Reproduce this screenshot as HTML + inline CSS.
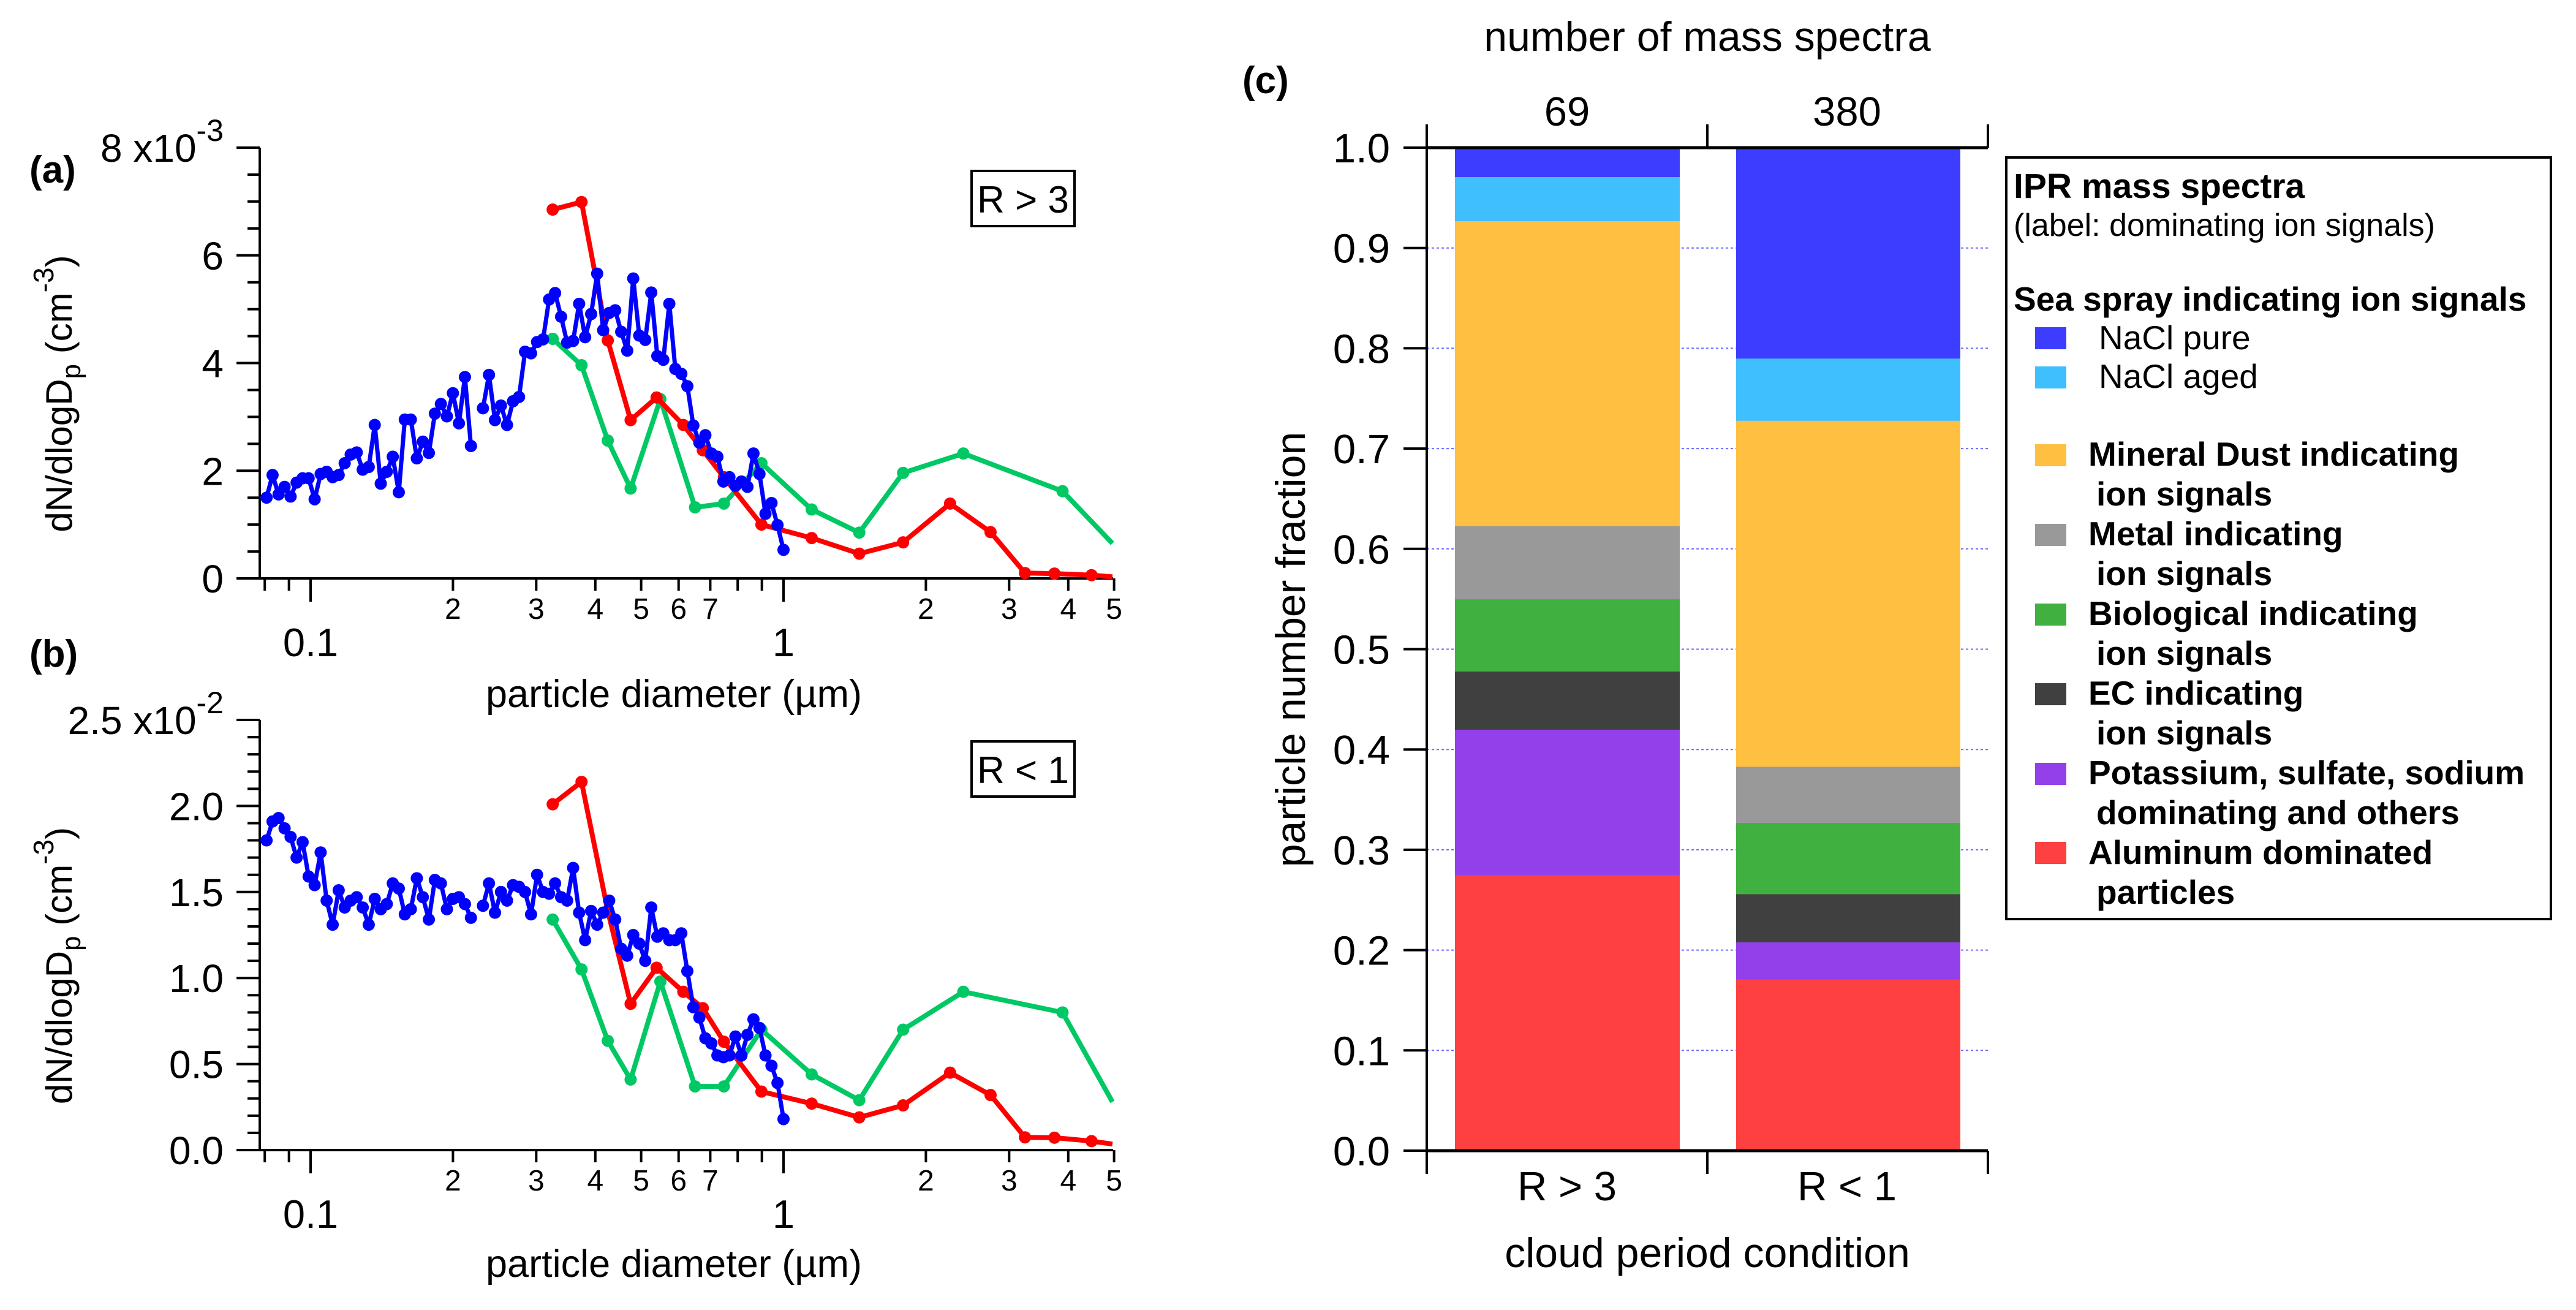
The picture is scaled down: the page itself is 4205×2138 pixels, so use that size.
<!DOCTYPE html>
<html><head><meta charset="utf-8"><style>
html,body{margin:0;padding:0;background:#fff;}
svg{display:block;font-family:"Liberation Sans",Arial,sans-serif;}
</style></head><body>
<svg id="fig" width="4205" height="2138" viewBox="0 0 4205 2138" xmlns="http://www.w3.org/2000/svg">
<rect width="4205" height="2138" fill="#fff"/>
<g id="pa"></g>
<g id="pb"></g>
<g id="pc"></g>
</svg>
<script>
// ---------- data: panels a & b ----------
const blueA = [1.50,1.92,1.56,1.70,1.52,1.78,1.86,1.86,1.47,1.94,1.98,1.88,1.92,2.14,2.30,2.34,2.02,2.07,2.85,1.76,1.98,2.26,1.60,2.95,2.95,2.23,2.54,2.33,3.06,3.24,3.01,3.44,2.88,3.74,2.46,null,3.16,3.78,2.94,3.21,2.85,3.29,3.37,4.21,4.18,4.39,4.44,5.18,5.30,4.86,4.38,4.41,5.10,4.48,4.91,5.66,4.61,4.93,4.98,4.58,4.23,5.57,4.51,4.43,5.31,4.13,4.06,5.10,3.89,3.80,3.57,2.84,2.52,2.66,2.32,2.26,1.80,1.88,1.72,1.80,1.70,2.32,1.94,1.20,1.40,0.99,0.53];
const blueB = [1.80,1.91,1.93,1.87,1.82,1.70,1.79,1.59,1.54,1.73,1.45,1.31,1.51,1.41,1.45,1.47,1.41,1.31,1.46,1.40,1.43,1.55,1.52,1.37,1.40,1.58,1.47,1.34,1.57,1.55,1.40,1.46,1.47,1.43,1.35,null,1.42,1.55,1.38,1.50,1.45,1.54,1.53,1.50,1.37,1.60,1.50,1.49,1.55,1.47,1.45,1.64,1.38,1.22,1.39,1.31,1.38,1.45,1.34,1.17,1.13,1.25,1.20,1.10,1.41,1.24,1.26,1.22,1.22,1.26,1.04,0.83,0.77,0.65,0.62,0.55,0.54,0.55,0.66,0.55,0.67,0.76,0.71,0.55,0.49,0.39,0.18];
const blueDmin = 0.0807, blueDmax = 1.0;
const redD = [0.325,0.374,0.425,0.475,0.539,0.614,0.675,0.748,0.898,1.147,1.446,1.79,2.25,2.74,3.24,3.74,4.48,4.96];
const redA = [6.85,6.99,4.42,2.94,3.36,2.85,2.38,1.88,1.00,0.75,0.46,0.67,1.39,0.86,0.10,0.09,0.06,0.03];
const redB = [2.01,2.14,1.39,0.85,1.06,0.92,0.825,0.63,0.34,0.27,0.19,0.26,0.45,0.32,0.074,0.072,0.052,0.035];
const greenD = [0.325,0.374,0.425,0.475,0.549,0.650,0.748,0.898,1.147,1.446,1.79,2.40,3.89,4.96];
const greenA = [4.45,3.96,2.56,1.67,3.33,1.32,1.39,2.14,1.28,0.85,1.96,2.32,1.62,0.65];
const greenB = [1.34,1.05,0.635,0.41,0.98,0.37,0.37,0.70,0.44,0.29,0.70,0.92,0.80,0.28];
// ---------- data: panel c ----------
const categories = ["R > 3","R < 1"];
const counts = ["69","380"];
const layerNames = ["Aluminum dominated","Potassium, sulfate, sodium","EC","Biological","Metal","Mineral Dust","NaCl aged","NaCl pure"];
const layerColors = ["#ff4040","#9440ea","#404040","#40b040","#999999","#ffbf40","#40bfff","#3d3dff"];
const fracR3 = [0.275,0.145,0.058,0.072,0.073,0.304,0.044,0.029];
const fracR1 = [0.171,0.037,0.048,0.071,0.056,0.345,0.062,0.210];
const yTicksC = [0,0.1,0.2,0.3,0.4,0.5,0.6,0.7,0.8,0.9,1.0];

const NS="http://www.w3.org/2000/svg";
function el(tag, attrs, parent){const e=document.createElementNS(NS,tag);for(const k in attrs)e.setAttribute(k,attrs[k]);parent.appendChild(e);return e;}
function txt(s, attrs, parent){const t=el('text',attrs,parent);t.textContent=s;return t;}

const X0=1279, DEC=772;
function xL(d){return X0+DEC*Math.log10(d);}
const AX_L=424, AX_R=1817;

function drawPanel(g, cfg){
  const yv=v=>cfg.y0-(v/cfg.max)*(cfg.y0-cfg.yTop);
  let a=el('line',{x1:AX_L,y1:cfg.yTop,x2:AX_L,y2:cfg.y0,stroke:'#000','stroke-width':4},g);
  
  for(let v=0; v<=cfg.max+1e-9; v+=cfg.minor){
    const isMaj=Math.abs(v/cfg.major-Math.round(v/cfg.major))<1e-6;
    el('line',{x1:AX_L-(isMaj?38:20),x2:AX_L,y1:yv(v),y2:yv(v),stroke:'#000','stroke-width':4},g);
    if(isMaj && v<cfg.max-1e-9){
      const t=txt(cfg.fmt(v),{x:365,y:yv(v)+23,'font-size':64,'text-anchor':'end'},g);
      
    }
  }
  const top=txt('',{x:365,y:cfg.yTop+23,'font-size':64,'text-anchor':'end'},g);
  
  top.innerHTML=cfg.topLabel+' x10<tspan dy="-34" font-size="50">'+cfg.exp+'</tspan>';
  a=el('line',{x1:AX_L,y1:cfg.y0,x2:AX_R,y2:cfg.y0,stroke:'#000','stroke-width':4},g);
  
  const minors=[0.08,0.09,0.2,0.3,0.4,0.5,0.6,0.7,0.8,0.9,2,3,4,5];
  const labeled={0.2:'2',0.3:'3',0.4:'4',0.5:'5',0.6:'6',0.7:'7',2:'2',3:'3',4:'4',5:'5'};
  minors.forEach(d=>{el('line',{x1:xL(d),x2:xL(d),y1:cfg.y0,y2:cfg.y0+20,stroke:'#000','stroke-width':4},g);
    if(labeled[d]){const t=txt(labeled[d],{x:xL(d),y:cfg.y0+66,'font-size':48,'text-anchor':'middle'},g);
      }});
  [[0.1,'0.1'],[1,'1']].forEach(([d,s])=>{el('line',{x1:xL(d),x2:xL(d),y1:cfg.y0,y2:cfg.y0+38,stroke:'#000','stroke-width':4},g);
    const t=txt(s,{x:xL(d),y:cfg.y0+127,'font-size':65,'text-anchor':'middle'},g);
    });
  let t=txt('particle diameter (µm)',{x:1100,y:cfg.xTitleY,'font-size':63,'text-anchor':'middle'},g);
  
  t=txt('',{transform:`translate(117,${(cfg.yTop+cfg.y0)/2+50}) rotate(-90)`,'font-size':60,'text-anchor':'middle'},g);
  
  t.innerHTML='dN/dlogD<tspan dy="14" font-size="44">p</tspan><tspan dy="-14"> (cm</tspan><tspan dy="-30" font-size="46">-3</tspan><tspan dy="30">)</tspan>';
  t=txt(cfg.letter,{x:48,y:cfg.letterY,'font-size':62,'font-weight':'bold'},g);
  
  const bx=el('rect',{x:1586,y:cfg.boxY,width:168,height:90,fill:'#fff',stroke:'#000','stroke-width':4},g);
  
  t=txt(cfg.cond,{x:1670,y:cfg.boxY+68,'font-size':62,'text-anchor':'middle'},g);
  
  function series(ds, vs, color, w, r, name, lastMarker){
    const sg=el('g',{},g);
    
    let segs=[],cur=[];
    vs.forEach((v,i)=>{if(v===null){if(cur.length)segs.push(cur);cur=[];}else cur.push([xL(ds[i]),yv(v)]);});
    if(cur.length)segs.push(cur);
    segs.forEach(s=>{const p=el('polyline',{points:s.map(q=>q.join(',')).join(' '),fill:'none',stroke:color,'stroke-width':w,'stroke-linejoin':'round'},sg);
      });
    vs.forEach((v,i)=>{if(v===null)return; if(!lastMarker && i===vs.length-1)return;
      const c=el('circle',{cx:xL(ds[i]),cy:yv(v),r:r,fill:color},sg);
      });
  }
  const n=cfg.blue.length;
  const bd=cfg.blue.map((_,i)=>Math.pow(10,Math.log10(blueDmin)+i*(Math.log10(blueDmax)-Math.log10(blueDmin))/(n-1)));
  series(greenD,cfg.green,'#00c864',8,10,'green-series',false);
  series(redD,cfg.red,'#ff0000',8,10,'red-series',false);
  series(bd,cfg.blue,'#0000ff',7,10,'blue-series',true);
}
drawPanel(document.getElementById('pa'),{yTop:241,y0:944,max:8,major:2,minor:0.5,fmt:v=>String(v),topLabel:'8',exp:'-3',
  xTitleY:1154,letter:'(a)',letterY:298,boxY:279,cond:'R > 3',blue:blueA,red:redA,green:greenA});
drawPanel(document.getElementById('pb'),{yTop:1175,y0:1877,max:2.5,major:0.5,minor:0.1,fmt:v=>v.toFixed(1),topLabel:'2.5',exp:'-2',
  xTitleY:2084,letter:'(b)',letterY:1088,boxY:1210,cond:'R < 1',blue:blueB,red:redB,green:greenB});

(function(){
  const g=document.getElementById('pc');
  const L=2329,R=3245,M=2787,Y0=1878,Y1=241;
  const yv=v=>Y0-v*(Y0-Y1);
  yTicksC.forEach(v=>{
    if(v>0&&v<1){const gl=el('line',{x1:L,x2:R,y1:yv(v),y2:yv(v),stroke:'#6b6bff','stroke-width':2,'stroke-dasharray':'4,4'},g);
      }
    el('line',{x1:L-38,x2:L,y1:yv(v),y2:yv(v),stroke:'#000','stroke-width':4},g);
    const t=txt(v.toFixed(1),{x:2269,y:yv(v)+24,'font-size':67,'text-anchor':'end'},g);
    
  });
  const bars=[[2375,2742,fracR3],[2834,3200,fracR1]];
  bars.forEach(([x1,x2,fr],bi)=>{
    const bg=el('g',{},g);
    
    let acc=0;
    fr.forEach((f,li)=>{const r=el('rect',{x:x1,y:yv(acc+f),width:x2-x1,height:yv(acc)-yv(acc+f)+0.5,fill:layerColors[li]},bg);
      acc+=f;});
  });
  let a=el('line',{x1:L,y1:203,x2:L,y2:1916,stroke:'#000','stroke-width':4},g);
  
  a=el('line',{x1:L,y1:Y0,x2:R,y2:Y0,stroke:'#000','stroke-width':5},g);
  
  a=el('line',{x1:L,y1:Y1,x2:R,y2:Y1,stroke:'#000','stroke-width':5},g);
  
  [M,R].forEach(x=>{el('line',{x1:x,x2:x,y1:Y0,y2:1916,stroke:'#000','stroke-width':4},g);el('line',{x1:x,x2:x,y1:203,y2:Y1,stroke:'#000','stroke-width':4},g);});
  [2558,3015].forEach((cx,i)=>{
    let t=txt(categories[i],{x:cx,y:1959,'font-size':67,'text-anchor':'middle'},g);
    
    t=txt(counts[i],{x:cx,y:205,'font-size':67,'text-anchor':'middle'},g);
    
  });
  let t=txt('number of mass spectra',{x:2787,y:83,'font-size':68,'text-anchor':'middle'},g);
  
  t=txt('cloud period condition',{x:2787,y:2068,'font-size':68,'text-anchor':'middle'},g);
  
  t=txt('particle number fraction',{transform:'translate(2130,1060) rotate(-90)','font-size':68,'text-anchor':'middle'},g);
  
  t=txt('(c)',{x:2028,y:152,'font-size':62,'font-weight':'bold'},g);
  
  const lg=el('g',{},g);
  
  el('rect',{x:3275,y:257,width:889,height:1243,fill:'#fff',stroke:'#000','stroke-width':4},lg);
  const lines=[
    ['IPR mass spectra',3287,323,true,57],
    ['(label: dominating ion signals)',3287,385,false,52],
    ['Sea spray indicating ion signals',3287,507,true,55],
    ['NaCl pure',3426,570,false,55],['NaCl aged',3426,633,false,55],
    ['Mineral Dust indicating',3409,760,true,55],['ion signals',3422,825,true,55],
    ['Metal indicating',3409,890,true,55],['ion signals',3422,955,true,55],
    ['Biological indicating',3409,1020,true,55],['ion signals',3422,1085,true,55],
    ['EC indicating',3409,1150,true,55],['ion signals',3422,1215,true,55],
    ['Potassium, sulfate, sodium',3409,1280,true,55],['dominating and others',3422,1345,true,55],
    ['Aluminum dominated',3409,1410,true,55],['particles',3422,1475,true,55]];
  lines.forEach(([s,x,y,b,fs])=>{const tt=txt(s,{x:x,y:y,'font-size':fs,'font-weight':b?'bold':'normal'},lg);
    });
  const sw=[[7,552],[6,616],[5,743],[4,873],[3,1003],[2,1133],[1,1263],[0,1392]];
  sw.forEach(([ci,cy])=>{const r=el('rect',{x:3322,y:cy-18,width:51,height:36,fill:layerColors[ci]},lg);
    });
})();
</script>
</body></html>
